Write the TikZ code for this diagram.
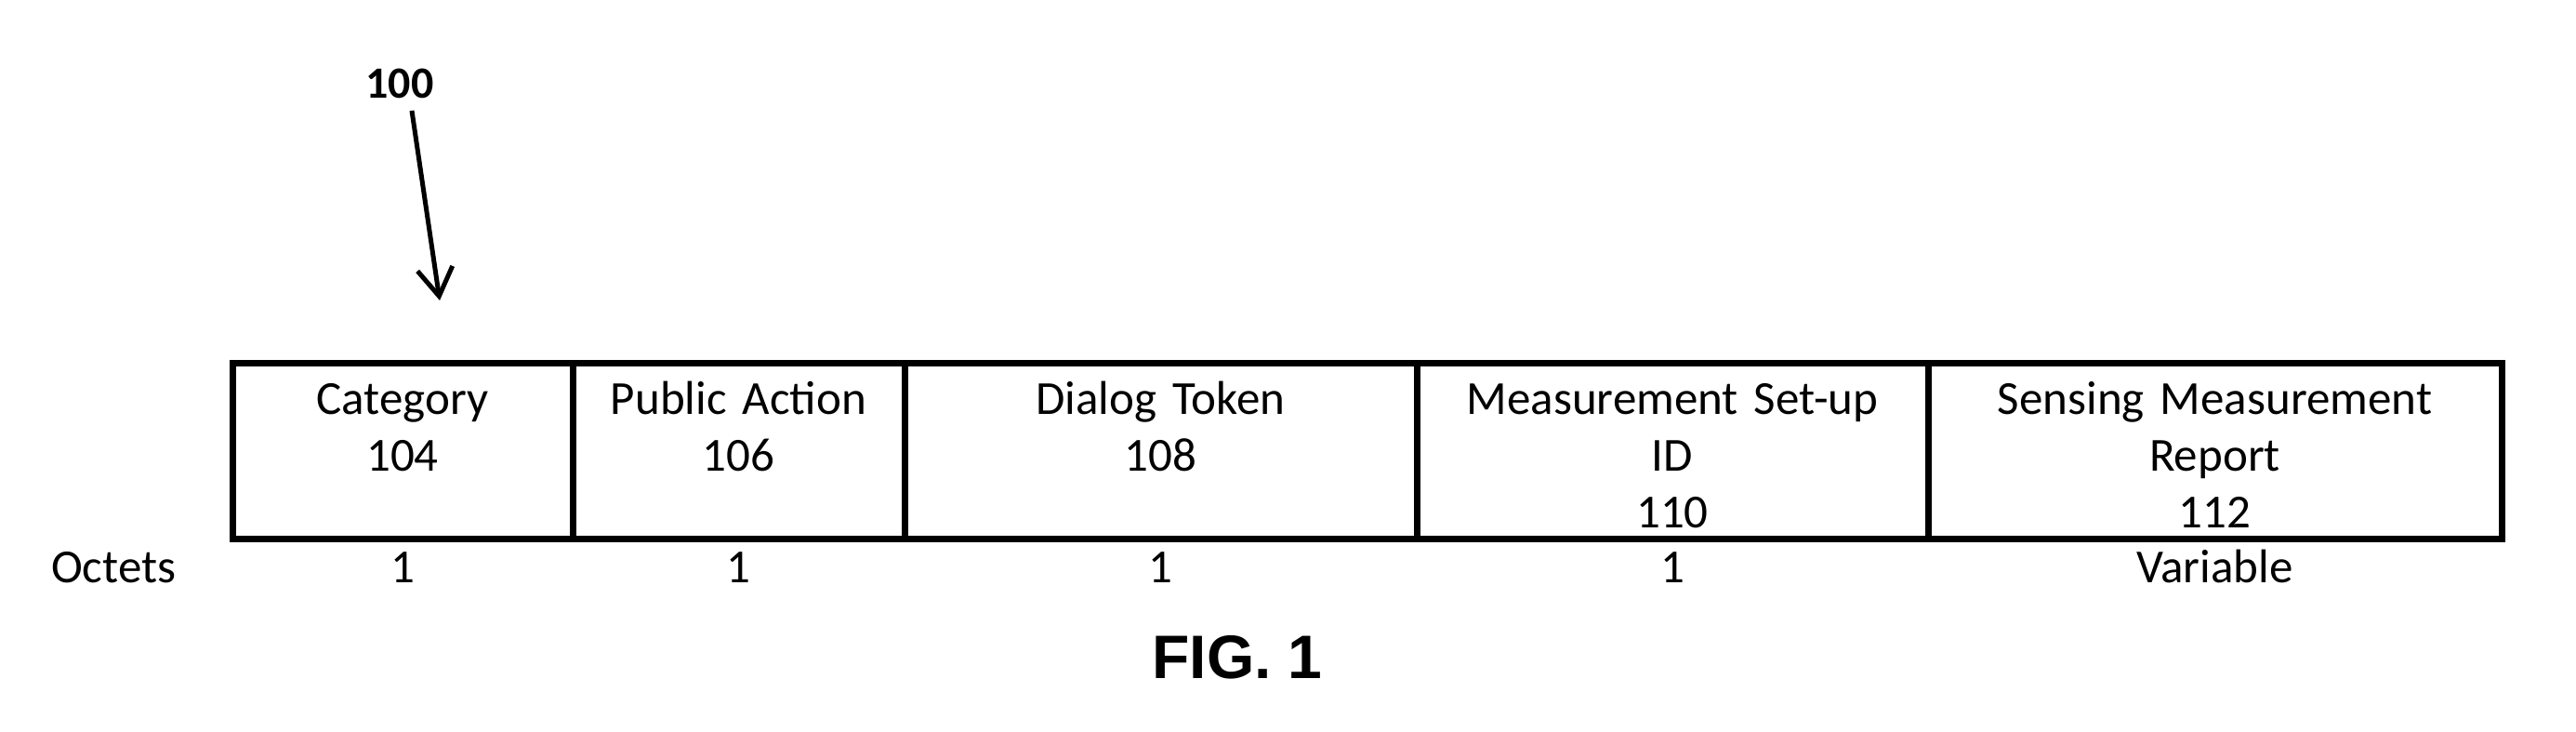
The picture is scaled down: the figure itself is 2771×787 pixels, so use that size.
\documentclass[tikz,border=0pt]{standalone}
\usepackage{fontspec}
\setmainfont{Carlito}
\newfontfamily\figfont{Liberation Sans}
\usetikzlibrary{arrows.meta}
\tikzset{
  frame/.style={line width=7pt, line join=miter},
  celltext/.style={anchor=base, inner sep=0pt, align=center, font=\fontsize{51}{61}\selectfont},
  rowtext/.style={anchor=base, inner sep=0pt, font=\fontsize{51}{61}\selectfont},
  reflabel/.style={anchor=base, inner sep=0pt, font=\fontsize{48}{58}\selectfont\bfseries},
  figlabel/.style={anchor=base, inner sep=0pt, font=\fontsize{66}{78}\selectfont\figfont\bfseries},
  pointer/.style={line width=5pt, -{Straight Barb[length=30pt, width=38pt, line width=5pt]}}
}
\begin{document}
\begin{tikzpicture}[x=1pt, y=-1pt]
\useasboundingbox (0,0) rectangle (2771,787);
% frame and dividers
\coordinate (tl) at (250,390.5);
\coordinate (br) at (2691,579);
\draw[frame] (tl) rectangle (br);
\foreach \xx/\nm in {616/d1, 973/d2, 1524/d3, 2074/d4} {
  \coordinate (\nm t) at (\xx,390.5);
  \coordinate (\nm b) at (\xx,579);
  \draw[frame] (\nm t) -- (\nm b);
}
% cell texts
\node[celltext, text width=330pt] (cat) at (433,445) {Category\\104};
\node[celltext, text width=330pt] (pub) at (794.5,445) {Public Action\\106};
\node[celltext, text width=500pt] (dlg) at (1248.5,445) {Dialog Token\\108};
\node[celltext, text width=520pt] (msid) at (1799,445) {Measurement Set-up\\ID\\110};
\node[celltext, text width=590pt] (smr) at (2382.5,445) {Sensing Measurement\\Report\\112};
% octets row
\node[rowtext, anchor=base west] (oct) at (55,626) {Octets};
\node[rowtext] (o1) at (433,626) {1};
\node[rowtext] (o2) at (794.5,626) {1};
\node[rowtext] (o3) at (1248.5,626) {1};
\node[rowtext] (o4) at (1799,626) {1};
\node[rowtext] (o5) at (2382.5,626) {Variable};
% reference label and arrow
\node[reflabel] (ref) at (430,105) {100};
\coordinate (tip) at (473,323);
\draw[pointer] ([xshift=13pt, yshift=-14pt]ref.base) -- (tip);
% figure label
\node[figlabel] (fig) at (1331,729) {FIG. 1};
\end{tikzpicture}
\end{document}
